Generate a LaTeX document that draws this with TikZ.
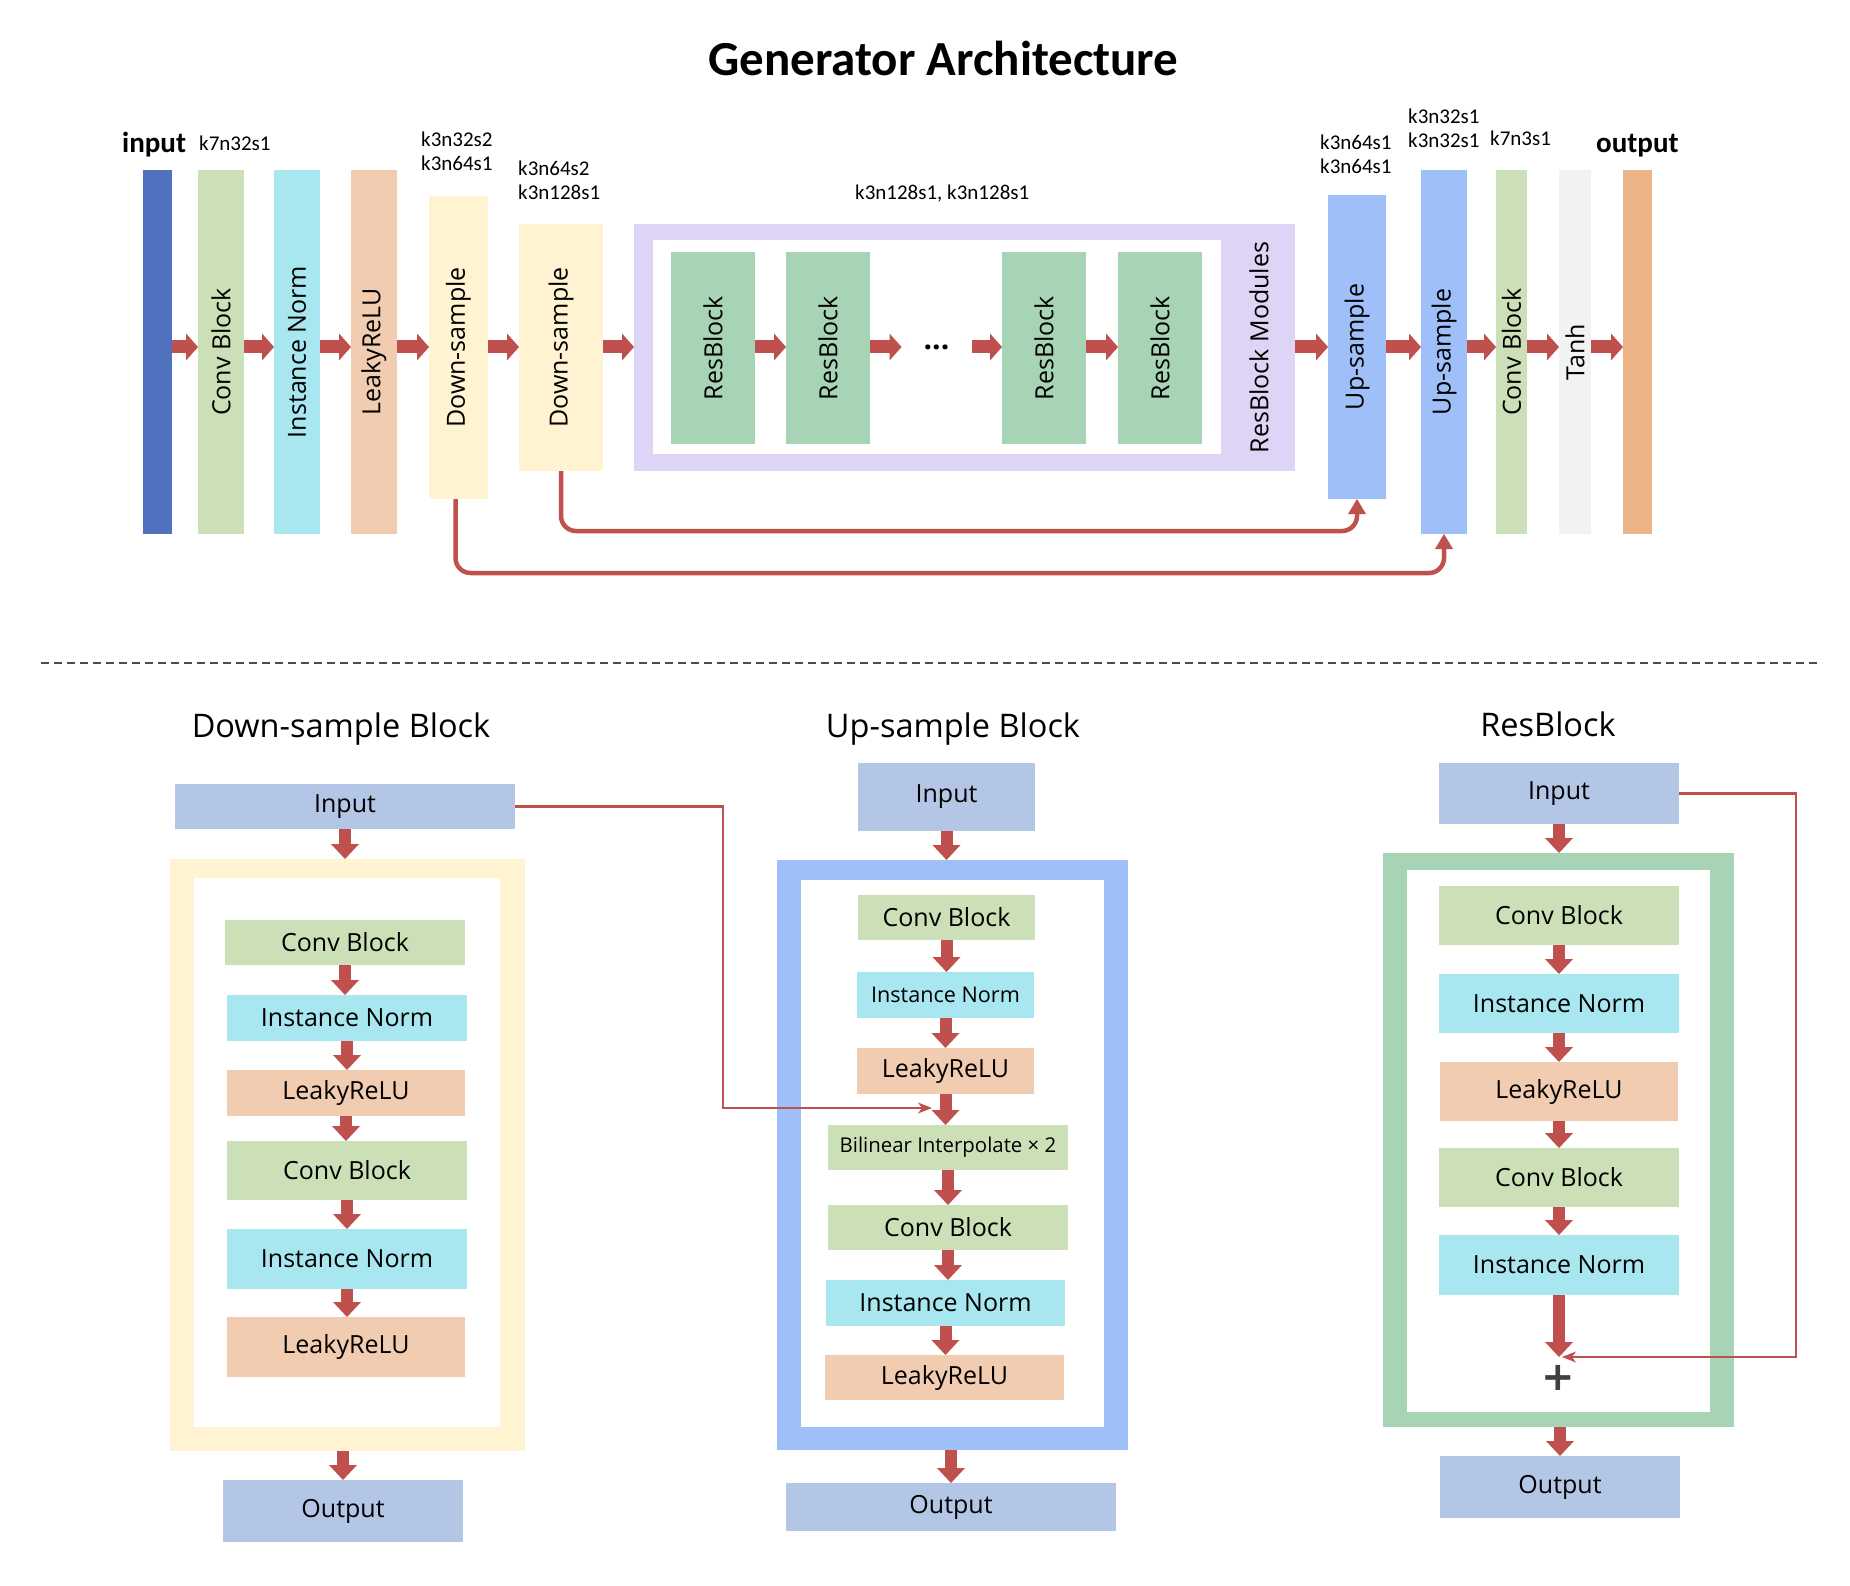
\documentclass[tikz,border=0pt]{standalone}
\usepackage{fontspec}
\setmainfont{Open Sans}
\newfontfamily\calibri{Carlito}
\usetikzlibrary{arrows.meta,calc}
\definecolor{ared}{RGB}{192,80,77}
\definecolor{cinp}{RGB}{79,113,190}
\definecolor{cconv}{RGB}{204,224,183}
\definecolor{cinorm}{RGB}{168,230,240}
\definecolor{clrelu}{RGB}{242,204,176}
\definecolor{cdown}{RGB}{255,243,210}
\definecolor{cres}{RGB}{167,212,181}
\definecolor{cpurp}{RGB}{221,212,246}
\definecolor{cup}{RGB}{158,191,248}
\definecolor{ctanh}{RGB}{242,242,242}
\definecolor{cout}{RGB}{235,179,134}
\definecolor{cio}{RGB}{180,198,229}
\definecolor{cplus}{RGB}{64,64,64}
\begin{document}
\begin{tikzpicture}[x=1pt,y=-1pt,
  bx/.style={inner sep=0pt, outer sep=0pt, draw=none, text=black, font=\fontsize{25}{30}\selectfont},
  klab/.style={inner sep=0pt, align=left, font=\calibri\fontsize{21}{24.5}\selectfont},
  sectitle/.style={anchor=base, inner sep=0pt, font=\fontsize{32.5}{38}\selectfont},
  harrow/.style={draw=ared, line width=13pt, -{Triangle[width=27pt,length=12pt,line width=0pt]}},
  varrow/.style={draw=ared, line width=12pt, -{Triangle[width=28pt,length=15pt,line width=0pt]}},
  skiparr/.style={draw=ared, line width=4.5pt, rounded corners=15pt, -{Triangle[width=18pt,length=15pt,line width=0pt]}},
  thinarr/.style={draw=ared, line width=2.5pt, -{Stealth[width=11pt,length=14pt,inset=4pt,line width=0pt]}}
]
\useasboundingbox (0,0) rectangle (1850,1586);
\fill[white] (0,0) rectangle (1850,1586);

% ---------------- title ----------------
\node[anchor=base, inner sep=0pt, font=\calibri\bfseries\fontsize{49}{55}\selectfont] (title) at (943.5,76) {Generator Architecture};

\coordinate (ymid) at (0,347);
\coordinate (sky1) at (0,531);
\coordinate (sky2) at (0,573);

% ---------------- top row ----------------
\node[bx, fill=cinp, minimum width=29, minimum height=364] (inbar) at (157.5,352) {};
\node[bx, fill=cconv, minimum width=46, minimum height=364] (conv1) at (221,352) {\rotatebox{90}{Conv Block}};
\node[bx, fill=cinorm, minimum width=46, minimum height=364] (in1) at (297,352) {\rotatebox{90}{Instance Norm}};
\node[bx, fill=clrelu, minimum width=46, minimum height=364] (lr1) at (374,352) {\rotatebox{90}{LeakyReLU}};
\node[bx, fill=cdown, minimum width=59, minimum height=303] (ds1) at (458.5,347.5) {\rotatebox{90}{Down-sample}};
\node[bx, fill=cdown, minimum width=84, minimum height=247] (ds2) at (561,347.5) {\rotatebox{90}{Down-sample}};
\node[bx, fill=cpurp, minimum width=661, minimum height=247] (resmod) at (964.5,347.5) {};
\node[bx, fill=white, minimum width=568, minimum height=214] (resin) at (937,347) {};
\node[bx, fill=cres, minimum width=84, minimum height=192] (rb1) at (713,348) {\rotatebox{90}{ResBlock}};
\node[bx, fill=cres, minimum width=84, minimum height=192] (rb2) at (828,348) {\rotatebox{90}{ResBlock}};
\node[bx, minimum width=70, minimum height=20] (dots) at (936.5,347) {\raisebox{-4pt}{\bfseries\fontsize{30}{30}\selectfont ...}};
\node[bx, fill=cres, minimum width=84, minimum height=192] (rb3) at (1044,348) {\rotatebox{90}{ResBlock}};
\node[bx, fill=cres, minimum width=84, minimum height=192] (rb4) at (1160,348) {\rotatebox{90}{ResBlock}};
\node[bx] (resmodlab) at (1259,347.5) {\rotatebox{90}{ResBlock Modules}};
\node[bx, fill=cup, minimum width=58, minimum height=304] (us1) at (1357,347) {\rotatebox{90}{Up-sample}};
\node[bx, fill=cup, minimum width=46, minimum height=364] (us2) at (1444,352) {\rotatebox{90}{Up-sample}};
\node[bx, fill=cconv, minimum width=31, minimum height=364] (conv2) at (1511.5,352) {\rotatebox{90}{Conv Block}};
\node[bx, fill=ctanh, minimum width=32, minimum height=364] (tanh) at (1575,352) {\rotatebox{90}{Tanh}};
\node[bx, fill=cout, minimum width=29, minimum height=364] (outbar) at (1637.5,352) {};

% labels
\node[anchor=base west, inner sep=0pt, font=\calibri\bfseries\fontsize{29}{32}\selectfont] (inlab) at (122,153) {input};
\node[anchor=base west, inner sep=0pt, font=\calibri\bfseries\fontsize{29}{32}\selectfont] (outlab) at (1596,153) {output};
\node[klab, anchor=base west] (k1) at (199,151) {k7n32s1};
\node[klab, anchor=base west] (k2) at (421,171) {k3n32s2\\k3n64s1};
\node[klab, anchor=base west] (k3) at (518,200) {k3n64s2\\k3n128s1};
\node[klab, anchor=base west] (k4) at (855,200) {k3n128s1, k3n128s1};
\node[klab, anchor=base west] (k5) at (1320,174) {k3n64s1\\k3n64s1};
\node[klab, anchor=base west] (k6) at (1408,148) {k3n32s1\\k3n32s1};
\node[klab, anchor=base west] (k7) at (1490,146) {k7n3s1};

% arrows top row
\draw[harrow] (inbar.east |- ymid) -- (conv1.west |- ymid);
\draw[harrow] (conv1.east |- ymid) -- (in1.west |- ymid);
\draw[harrow] (in1.east |- ymid) -- (lr1.west |- ymid);
\draw[harrow] (lr1.east |- ymid) -- (ds1.west |- ymid);
\draw[harrow] (ds1.east |- ymid) -- (ds2.west |- ymid);
\draw[harrow] (ds2.east |- ymid) -- (resmod.west |- ymid);
\draw[harrow] (rb1.east |- ymid) -- (rb2.west |- ymid);
\draw[harrow] (rb2.east |- ymid) -- (dots.west |- ymid);
\draw[harrow] (dots.east |- ymid) -- (rb3.west |- ymid);
\draw[harrow] (rb3.east |- ymid) -- (rb4.west |- ymid);
\draw[harrow] (resmod.east |- ymid) -- (us1.west |- ymid);
\draw[harrow] (us1.east |- ymid) -- (us2.west |- ymid);
\draw[harrow] (us2.east |- ymid) -- (conv2.west |- ymid);
\draw[harrow] (conv2.east |- ymid) -- (tanh.west |- ymid);
\draw[harrow] (tanh.east |- ymid) -- (outbar.west |- ymid);

% skip connections
\draw[skiparr] ([xshift=-3pt]ds1.south) |- (us2.south |- sky2) -- (us2.south);
\draw[skiparr] (ds2.south) |- (us1.south |- sky1) -- (us1.south);

% dashed separator
\coordinate (dl) at (41,663);
\coordinate (dr) at (1822,663);
\draw[line width=1.4pt, color=black!70, dash pattern=on 8pt off 5pt] (dl) -- (dr);

% ---------------- Down-sample block ----------------
\node[sectitle] (dstitle) at (341,737) {Down-sample Block};
\node[bx, fill=cio, minimum width=340, minimum height=45] (dsin) at (345,806.5) {Input};
\node[bx, fill=cdown, minimum width=355, minimum height=592] (dsframe) at (347.5,1155) {};
\node[bx, fill=white, minimum width=306, minimum height=549] (dsinner) at (347,1152.5) {};
\node[bx, fill=cconv, minimum width=240, minimum height=45] (dsc1) at (345,942.5) {Conv Block};
\node[bx, fill=cinorm, minimum width=240, minimum height=46] (dsn1) at (347,1018) {Instance Norm};
\node[bx, fill=clrelu, minimum width=238, minimum height=46] (dsl1) at (346,1093) {LeakyReLU};
\node[bx, fill=cconv, minimum width=240, minimum height=59] (dsc2) at (347,1170.5) {Conv Block};
\node[bx, fill=cinorm, minimum width=240, minimum height=60] (dsn2) at (347,1259) {Instance Norm};
\node[bx, fill=clrelu, minimum width=238, minimum height=60] (dsl2) at (346,1347) {LeakyReLU};
\node[bx, fill=cio, minimum width=240, minimum height=62] (dsout) at (343,1511) {Output};

\draw[varrow] (dsin.south) -- (dsin.south |- dsframe.north);
\draw[varrow] (dsc1.south) -- (dsc1.south |- dsn1.north);
\draw[varrow] (dsn1.south) -- (dsn1.south |- dsl1.north);
\draw[varrow] (dsl1.south) -- (dsl1.south |- dsc2.north);
\draw[varrow] (dsc2.south) -- (dsc2.south |- dsn2.north);
\draw[varrow] (dsn2.south) -- (dsn2.south |- dsl2.north);
\draw[varrow] (dsout.north |- dsframe.south) -- (dsout.north);

% ---------------- Up-sample block ----------------
\node[sectitle] (ustitle) at (953,737) {Up-sample Block};
\node[bx, fill=cio, minimum width=177, minimum height=68] (usin) at (946.5,797) {Input};
\node[bx, fill=cup, minimum width=351, minimum height=590] (usframe) at (952.5,1155) {};
\node[bx, fill=white, minimum width=303, minimum height=547] (usinner) at (952.5,1153.5) {};
\node[bx, fill=cconv, minimum width=177, minimum height=45] (usc1) at (946.5,917.5) {Conv Block};
\node[bx, fill=cinorm, minimum width=177, minimum height=46, font=\fontsize{21.6}{26}\selectfont] (usn1) at (945.5,995) {Instance Norm};
\node[bx, fill=clrelu, minimum width=177, minimum height=46] (usl1) at (945.5,1071) {LeakyReLU};
\node[bx, fill=cconv, minimum width=240, minimum height=45, font=\fontsize{20.4}{24}\selectfont] (usbi) at (948,1147.5) {Bilinear Interpolate × 2};
\node[bx, fill=cconv, minimum width=240, minimum height=45] (usc2) at (948,1227.5) {Conv Block};
\node[bx, fill=cinorm, minimum width=239, minimum height=46] (usn2) at (945.5,1303) {Instance Norm};
\node[bx, fill=clrelu, minimum width=239, minimum height=45] (usl2) at (944.5,1377.5) {LeakyReLU};
\node[bx, fill=cio, minimum width=330, minimum height=48] (usout) at (951,1507) {Output};
\coordinate (usjoin) at (932,1108);

\draw[varrow] (usin.south) -- (usin.south |- usframe.north);
\draw[varrow] (usc1.south) -- (usc1.south |- usn1.north);
\draw[varrow] (usn1.south) -- (usn1.south |- usl1.north);
\draw[varrow] (usl1.south) -- (usl1.south |- usbi.north);
\draw[varrow] (usbi.south) -- (usbi.south |- usc2.north);
\draw[varrow] (usc2.south) -- (usc2.south |- usn2.north);
\draw[varrow] (usn2.south) -- (usn2.south |- usl2.north);
\draw[varrow] (usout.north |- usframe.south) -- (usout.north);
\draw[thinarr] (dsin.east) -- ++(208,0) |- (usjoin);

% ---------------- ResBlock ----------------
\node[sectitle] (rstitle) at (1548,736) {ResBlock};
\node[bx, fill=cio, minimum width=240, minimum height=61] (rsin) at (1559,793.5) {Input};
\node[bx, fill=cres, minimum width=351, minimum height=574] (rsframe) at (1558.5,1140) {};
\node[bx, fill=white, minimum width=303, minimum height=542] (rsinner) at (1558.5,1141) {};
\node[bx, fill=cconv, minimum width=240, minimum height=59] (rsc1) at (1559,915.5) {Conv Block};
\node[bx, fill=cinorm, minimum width=240, minimum height=59] (rsn1) at (1559,1003.5) {Instance Norm};
\node[bx, fill=clrelu, minimum width=238, minimum height=59] (rsl1) at (1559,1091.5) {LeakyReLU};
\node[bx, fill=cconv, minimum width=240, minimum height=59] (rsc2) at (1559,1177.5) {Conv Block};
\node[bx, fill=cinorm, minimum width=240, minimum height=60] (rsn2) at (1559,1265) {Instance Norm};
\coordinate (rsum) at (1560,1357);
\node[inner sep=0pt, text=cplus, font=\fontspec{DejaVu Sans}\bfseries\fontsize{40}{40}\selectfont] (plus) at (1558,1378) {+};
\node[bx, fill=cio, minimum width=240, minimum height=62] (rsout) at (1560,1487) {Output};

\draw[varrow] (rsin.south) -- (rsin.south |- rsframe.north);
\draw[varrow] (rsc1.south) -- (rsc1.south |- rsn1.north);
\draw[varrow] (rsn1.south) -- (rsn1.south |- rsl1.north);
\draw[varrow] (rsl1.south) -- (rsl1.south |- rsc2.north);
\draw[varrow] (rsc2.south) -- (rsc2.south |- rsn2.north);
\draw[varrow] (rsn2.south) -- (rsn2.south |- rsum);
\draw[varrow] (rsout.north |- rsframe.south) -- (rsout.north);
\draw[thinarr] (rsin.east) -- ++(117,0) |- ([xshift=2pt]rsum);
\end{tikzpicture}
\end{document}
